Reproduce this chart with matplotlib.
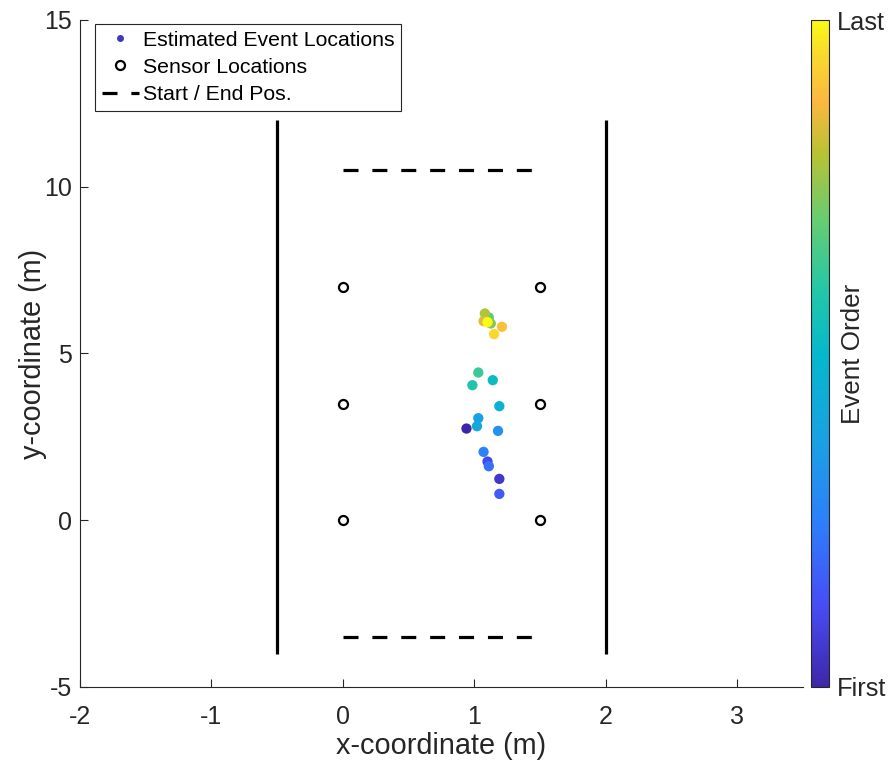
import matplotlib
matplotlib.use("Agg")
import matplotlib.pyplot as plt
import numpy as np
from matplotlib.colors import LinearSegmentedColormap, Normalize
from matplotlib.lines import Line2D
import matplotlib.cm as cm

plt.rcParams['font.family'] = ['Liberation Sans', 'DejaVu Sans']
plt.rcParams['lines.scale_dashes'] = False
plt.rcParams['axes.unicode_minus'] = False

# estimated event locations, listed in event order (first -> last)
event_x = [0.94, 1.19, 1.10, 1.19, 1.11, 1.07, 1.18, 1.03, 1.02, 1.19,
           1.14, 0.985, 1.03, 1.11, 1.125, 1.08, 1.07, 1.21, 1.15, 1.10]
event_y = [2.75, 1.24, 1.76, 0.79, 1.62, 2.05, 2.68, 3.06, 2.82, 3.42,
           4.20, 4.05, 4.43, 6.08, 5.90, 6.20, 5.97, 5.80, 5.58, 5.94]
event_order = list(range(1, len(event_x) + 1))

sensor_x = [0, 0, 0, 1.5, 1.5, 1.5]
sensor_y = [0, 3.5, 7, 0, 3.5, 7]

wall_x = [-0.5, 2.0]
wall_y = [-4, 12]
start_end_y = [10.5, -3.5]
start_end_x = [0, 1.5]

# parula-like colormap
parula_pts = [
    (0.00, (0.243, 0.150, 0.660)),
    (0.12, (0.280, 0.300, 0.960)),
    (0.25, (0.180, 0.500, 0.980)),
    (0.37, (0.100, 0.630, 0.890)),
    (0.50, (0.020, 0.720, 0.800)),
    (0.60, (0.150, 0.780, 0.650)),
    (0.70, (0.400, 0.800, 0.450)),
    (0.80, (0.720, 0.760, 0.200)),
    (0.88, (0.990, 0.720, 0.250)),
    (0.95, (0.970, 0.850, 0.180)),
    (1.00, (0.980, 0.980, 0.080)),
]
parula = LinearSegmentedColormap.from_list("parula", parula_pts)

fig = plt.figure(figsize=(8.93, 7.63), dpi=100)
ax = fig.add_axes([80/893, 76/763, 723/893, 667/763])

gray = '#262626'
for wx in wall_x:
    ax.plot([wx, wx], wall_y, color='black', lw=2.3, solid_capstyle='butt')
for sy in start_end_y:
    ax.plot(start_end_x, [sy, sy], color='black', lw=2.3,
            dashes=(10.8, 10.0), dash_capstyle='butt')

ax.plot(sensor_x, sensor_y, 'o', mfc='none', mec='black', ms=6.5, mew=1.6)

norm = Normalize(vmin=min(event_order), vmax=max(event_order))
ax.scatter(event_x, event_y, c=event_order, cmap=parula, norm=norm,
           s=55, edgecolors='none', zorder=3)

ax.set_xlim(-2, 3.5)
ax.set_ylim(-5, 15)
ax.set_xticks([-2, -1, 0, 1, 2, 3])
ax.set_yticks([-5, 0, 5, 10, 15])
ax.spines['top'].set_visible(False)
ax.spines['right'].set_visible(False)
for s in ['left', 'bottom']:
    ax.spines[s].set_color(gray)
    ax.spines[s].set_linewidth(0.8)
ax.tick_params(direction='in', length=5.5, width=0.8, colors=gray,
               labelsize=18, labelcolor=gray)
ax.tick_params(axis='x', pad=13)
ax.tick_params(axis='y', pad=6)
ax.set_xlabel('x-coordinate (m)', fontsize=20.8, color=gray, labelpad=2)
ax.set_ylabel('y-coordinate (m)', fontsize=20.8, color=gray, labelpad=-2)

handles = [
    Line2D([], [], marker='.', ls='none', color=parula(0.05), ms=8),
    Line2D([], [], marker='o', ls='none', mfc='none', mec='black', ms=6.5, mew=1.6),
    Line2D([], [], color='black', lw=2.3, dashes=(10.8, 10.0)),
]
labels = ['Estimated Event Locations', 'Sensor Locations', 'Start / End Pos.']
leg = ax.legend(handles, labels, loc='upper left',
                bbox_to_anchor=(15/723, 1 - 4/667), borderaxespad=0,
                prop={'size': 15.3}, fancybox=False, framealpha=1,
                handlelength=1.74, handletextpad=0.19, labelspacing=0.38,
                borderpad=0.32)
leg.get_frame().set_edgecolor(gray)
leg.get_frame().set_linewidth(0.8)

cax = fig.add_axes([811/893, 76/763, 18/893, 667/763])
cb = fig.colorbar(cm.ScalarMappable(norm=norm, cmap=parula), cax=cax)
cb.set_ticks([min(event_order), max(event_order)])
cb.set_ticklabels(['First', 'Last'])
cb.outline.set_edgecolor(gray)
cb.outline.set_linewidth(0.8)
cax.tick_params(length=0, labelsize=18.3, labelcolor=gray, pad=6)
cb.set_label('Event Order', fontsize=18.7, color=gray)
cax.yaxis.set_label_coords((841 - 811) / 18, 0.5)

fig.savefig('out.png', dpi=100)
